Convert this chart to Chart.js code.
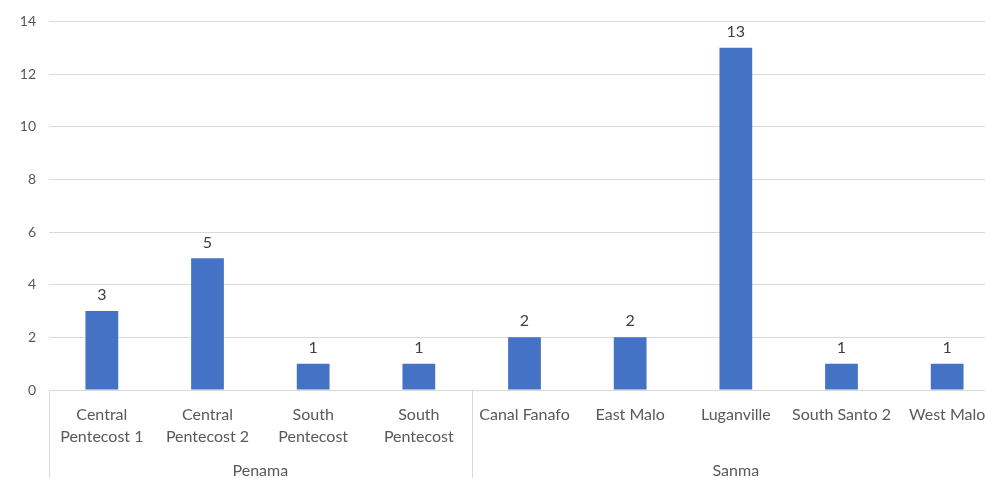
<!DOCTYPE html>
<html>
<head>
<meta charset="utf-8">
<script src="https://cdn.jsdelivr.net/npm/chart.js@4/dist/chart.umd.min.js"></script>
<style>
  html, body { margin: 0; padding: 0; background: #fff; overflow: hidden; }
  #wrap { width: 1000px; height: 478px; position: relative; }
</style>
</head>
<body>
<div id="wrap"><canvas id="chart"></canvas></div>
<script>
// Category labels (two lines where wrapped) and their region groups
const categories = [
  ['Central', 'Pentecost 1'],
  ['Central', 'Pentecost 2'],
  ['South', 'Pentecost'],
  ['South', 'Pentecost'],
  'Canal Fanafo',
  'East Malo',
  'Luganville',
  'South Santo 2',
  'West Malo'
];
const groups = ['Penama', 'Sanma'];
const groupSizes = [4, 5];
const counts = [3, 5, 1, 1, 2, 2, 13, 1, 1];
const yTicks = [0, 2, 4, 6, 8, 10, 12, 14];

const textColor = '#595959';
const lineColor = '#d9d9d9';
const fontFamily = 'Lato, "Open Sans", sans-serif';

// Value labels above each bar
const valueLabels = {
  id: 'valueLabels',
  afterDatasetsDraw(chart) {
    const { ctx } = chart;
    const meta = chart.getDatasetMeta(0);
    ctx.save();
    ctx.fillStyle = '#404040';
    ctx.font = '16px ' + fontFamily;
    ctx.textAlign = 'center';
    ctx.textBaseline = 'bottom';
    meta.data.forEach((bar, i) => {
      ctx.fillText(String(counts[i]), bar.x, bar.y - 8);
    });
    ctx.restore();
  }
};

// Group separators and group names under the category labels
const groupAxis = {
  id: 'groupAxis',
  afterDraw(chart) {
    const { ctx, chartArea } = chart;
    const x = chart.scales.x;
    const step = x.getPixelForValue(1) - x.getPixelForValue(0);
    const bottom = chart.height;
    ctx.save();
    ctx.strokeStyle = lineColor;
    ctx.lineWidth = 1;
    ctx.fillStyle = textColor;
    ctx.font = '16px ' + fontFamily;
    ctx.textAlign = 'center';
    ctx.textBaseline = 'middle';
    let start = 0;
    const edges = [x.getPixelForValue(0) - step / 2];
    groups.forEach((name, g) => {
      const end = start + groupSizes[g];
      const left = x.getPixelForValue(start) - step / 2;
      const right = x.getPixelForValue(end - 1) + step / 2;
      edges.push(right);
      ctx.fillText(name, (left + right) / 2, 471);
      start = end;
    });
    edges.forEach(px => {
      const xx = Math.round(px) + 0.5;
      ctx.beginPath();
      ctx.moveTo(xx, chartArea.bottom);
      ctx.lineTo(xx, bottom);
      ctx.stroke();
    });
    ctx.restore();
  }
};

new Chart(document.getElementById('chart'), {
  type: 'bar',
  data: {
    labels: categories,
    datasets: [{
      data: counts,
      backgroundColor: '#4472C4',
      categoryPercentage: 1,
      barPercentage: 0.31
    }]
  },
  options: {
    responsive: true,
    maintainAspectRatio: false,
    animation: false,
    layout: { padding: { top: 17, left: 0, right: 0, bottom: 0 } },
    plugins: {
      legend: { display: false },
      tooltip: { enabled: false }
    },
    scales: {
      x: {
        grid: { display: false },
        border: { display: false },
        ticks: {
          color: textColor,
          font: { family: fontFamily, size: 16, lineHeight: 1.42 },
          padding: 5,
          maxRotation: 0,
          autoSkip: false
        },
        afterFit(scale) { scale.height = 88; }
      },
      y: {
        min: 0,
        max: 14,
        afterBuildTicks(scale) { scale.ticks = yTicks.map(v => ({ value: v })); },
        grid: { color: lineColor, drawTicks: false },
        border: { display: false },
        ticks: {
          color: textColor,
          font: { family: fontFamily, size: 14 },
          padding: 13
        },
        afterFit(scale) { scale.width = 49; }
      }
    }
  },
  plugins: [valueLabels, groupAxis]
});
</script>
</body>
</html>
